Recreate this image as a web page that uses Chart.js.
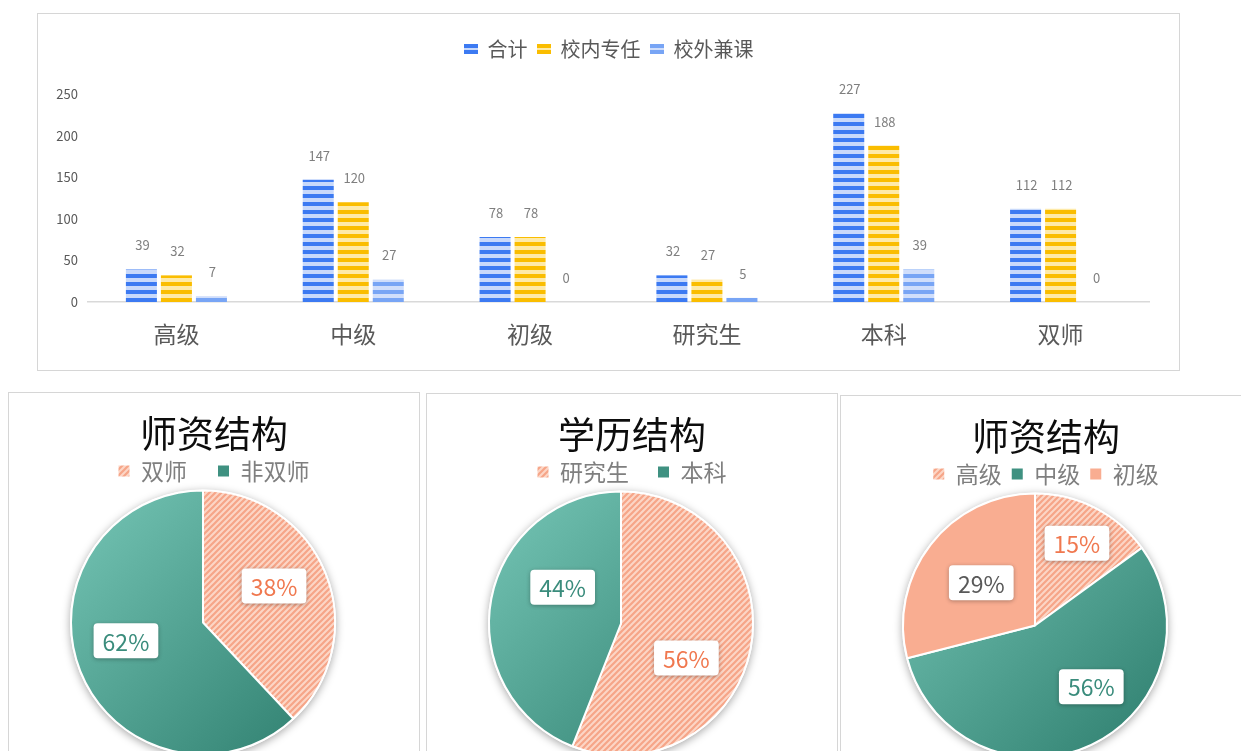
<!DOCTYPE html>
<html>
<head>
<meta charset="utf-8">
<script src="https://cdn.jsdelivr.net/npm/chart.js@4/dist/chart.umd.min.js"></script>
<style>
  body { margin: 0; background: #fff; width: 1241px; height: 751px; overflow: hidden; position: relative; }
  .panel { position: absolute; box-sizing: border-box; border: 1px solid #d6d6d6; background: #fff; }
  canvas { display: block; }
</style>
</head>
<body>
<div class="panel" style="left:37px;top:13px;width:1143px;height:358px"><canvas id="barChart" width="1141" height="356"></canvas></div>
<div class="panel" style="left:8px;top:392px;width:412px;height:420px"><canvas id="pie1" width="410" height="400"></canvas></div>
<div class="panel" style="left:426px;top:393px;width:412px;height:420px"><canvas id="pie2" width="410" height="400"></canvas></div>
<div class="panel" style="left:840px;top:395px;width:412px;height:420px"><canvas id="pie3" width="410" height="400"></canvas></div>

<script>
// ---- data ----
const categories = ['高级', '中级', '初级', '研究生', '本科', '双师'];
const seriesNames = ['合计', '校内专任', '校外兼课'];
const totalValues = [39, 147, 78, 32, 227, 112];
const fullTimeValues = [32, 120, 78, 27, 188, 112];
const partTimeValues = [7, 27, 0, 5, 39, 0];
const yTicks = [0, 50, 100, 150, 200, 250];

const pieTitles = ['师资结构', '学历结构', '师资结构'];
const pie1Labels = ['双师', '非双师'];
const pie1Values = [38, 62];
const pie2Labels = ['研究生', '本科'];
const pie2Values = [56, 44];
const pie3Labels = ['高级', '中级', '初级'];
const pie3Values = [15, 56, 29];

const FONT = "'Noto Sans CJK SC', 'Microsoft YaHei', sans-serif";
Chart.defaults.font.family = FONT;

// striped fill for bars (dark / light horizontal bands)
function stripe(dark, light) {
  const c = document.createElement('canvas');
  c.width = 4; c.height = 8;
  const g = c.getContext('2d');
  g.fillStyle = light; g.fillRect(0, 0, 4, 8);
  g.fillStyle = dark; g.fillRect(0, 4, 4, 4);
  return g.createPattern(c, 'repeat');
}
function stripeIcon(dark, light) {
  const c = document.createElement('canvas');
  c.width = 14; c.height = 10;
  const g = c.getContext('2d');
  g.fillStyle = light; g.fillRect(0, 0, 14, 10);
  g.fillStyle = dark; g.fillRect(0, 0, 14, 4); g.fillRect(0, 6, 14, 4);
  return c;
}
// diagonal hatch for the salmon slices
function hatch() {
  const c = document.createElement('canvas');
  c.width = 6; c.height = 6;
  const g = c.getContext('2d');
  g.fillStyle = '#fcd6c6'; g.fillRect(0, 0, 6, 6);
  g.strokeStyle = '#f6a588'; g.lineWidth = 2.2;
  g.beginPath();
  g.moveTo(-1, 7); g.lineTo(7, -1);
  g.moveTo(-1, 1); g.lineTo(1, -1);
  g.moveTo(5, 7); g.lineTo(7, 5);
  g.stroke();
  return g.createPattern(c, 'repeat');
}

const blue = ['#3c7af2', '#c8d9fb'];
const yellow = ['#fabd00', '#feeaa8'];
const lightBlue = ['#78a5f5', '#d0defb'];
const barColors = [blue, yellow, lightBlue];
const legendIcons = barColors.map(c => stripeIcon(c[0], c[1]));
const HATCH = hatch();

// legend height tweak
const legendHeight = {
  id: 'legendHeight',
  beforeLayout(chart, args, opts) {
    const lg = chart.legend;
    if (!lg || lg._fixed) return;
    const fit = lg.fit;
    lg.fit = function () { fit.call(this); this.height += (opts.extra || 0); };
    lg._fixed = true;
  }
};

// empty side boxes so the plot area sits off-centre while title/legend stay centred
function sideSpace(left, right) {
  return {
    id: 'sideSpace',
    beforeInit(chart) {
      [['left', left], ['right', right]].forEach(([pos, size]) => {
        Chart.layouts.addBox(chart, {
          position: pos, weight: 0, fullSize: false, options: {},
          width: size, height: 0, left: 0, top: 0, right: 0, bottom: 0,
          isHorizontal() { return false; },
          update(maxW, maxH) { this.width = size; this.height = maxH; return size; },
          draw() {}
        });
      });
    }
  };
}

const barValueLabels = {
  id: 'barValueLabels',
  afterDatasetsDraw(chart) {
    const ctx = chart.ctx;
    ctx.save();
    ctx.font = '13px ' + FONT;
    ctx.fillStyle = '#7f7f7f';
    ctx.textAlign = 'center';
    ctx.textBaseline = 'middle';
    chart.data.datasets.forEach((ds, i) => {
      chart.getDatasetMeta(i).data.forEach((bar, j) => {
        ctx.fillText(String(ds.data[j]), bar.x + 1, bar.y - 24);
      });
    });
    ctx.restore();
  }
};

new Chart(document.getElementById('barChart'), {
  type: 'bar',
  data: {
    labels: categories,
    datasets: [totalValues, fullTimeValues, partTimeValues].map((d, i) => ({
      label: seriesNames[i],
      data: d,
      backgroundColor: stripe(barColors[i][0], barColors[i][1]),
      categoryPercentage: 0.594,
      barPercentage: 0.886
    }))
  },
  options: {
    responsive: false,
    animation: false,
    layout: { padding: { top: 16, right: 0, left: 0, bottom: 0 } },
    scales: {
      x: {
        grid: { display: false, drawTicks: false },
        border: { color: '#d9d9d9', width: 1.5 },
        ticks: { color: '#595959', font: { size: 23 }, padding: 18 },
        afterFit(s) { s.height = 68; }
      },
      y: {
        min: 0, max: 250,
        grid: { display: false, drawTicks: false },
        border: { display: false },
        ticks: { color: '#595959', font: { size: 13 }, padding: 10 },
        afterBuildTicks(axis) { axis.ticks = yTicks.map(v => ({ value: v })); },
        afterFit(s) { s.width = 50; }
      }
    },
    plugins: {
      tooltip: { enabled: false },
      legendHeight: { extra: 25 },
      legend: {
        position: 'top',
        labels: {
          usePointStyle: true, boxWidth: 14, boxHeight: 10, padding: 9,
          color: '#595959', font: { size: 20 },
          generateLabels() {
            return seriesNames.map((t, i) => ({
              text: t, pointStyle: legendIcons[i], fillStyle: 'transparent',
              strokeStyle: 'transparent', lineWidth: 0, datasetIndex: i, hidden: false, fontColor: '#595959'
            }));
          }
        }
      }
    }
  },
  plugins: [sideSpace(0, 30), legendHeight, barValueLabels]
});

// ---- pies ----
function tealGradient(chart) {
  const a = chart.chartArea;
  const cx = (a.left + a.right) / 2, cy = (a.top + a.bottom) / 2;
  const r = Math.min(a.width, a.height) / 2;
  const g = chart.ctx.createLinearGradient(cx - r * 0.75, cy - r * 0.75, cx + r * 0.75, cy + r * 0.75);
  g.addColorStop(0, '#6dbdad');
  g.addColorStop(1, '#368676');
  return g;
}
function sliceFill(chart, kind) {
  if (kind === 'hatch') return HATCH;
  if (kind === 'teal') return chart.chartArea ? tealGradient(chart) : '#4a9a8a';
  return kind;
}

const pieShadow = {
  id: 'pieShadow',
  beforeDatasetsDraw(chart) {
    const arc = chart.getDatasetMeta(0).data[0];
    if (!arc) return;
    const ctx = chart.ctx;
    ctx.save();
    ctx.shadowColor = 'rgba(0,0,0,0.35)';
    ctx.shadowBlur = 9;
    ctx.shadowOffsetY = 2;
    ctx.fillStyle = '#fff';
    ctx.beginPath();
    ctx.arc(arc.x, arc.y, arc.outerRadius + 1, 0, Math.PI * 2);
    ctx.fill();
    ctx.restore();
  }
};

// percentage boxes; place = [angle shift in degrees, radius fraction] per slice
const pieLabels = {
  id: 'pieLabels',
  afterDatasetsDraw(chart, args, opts) {
    const ctx = chart.ctx;
    const ds = chart.data.datasets[0];
    chart.getDatasetMeta(0).data.forEach((arc, i) => {
      const place = (opts.place && opts.place[i]) || [0, 0.6];
      const mid = (arc.startAngle + arc.endAngle) / 2 + place[0] * Math.PI / 180;
      const r = arc.outerRadius * place[1];
      const px = arc.x + Math.cos(mid) * r;
      const py = arc.y + Math.sin(mid) * r;
      const text = ds.data[i] + '%';
      ctx.save();
      ctx.font = '23px ' + FONT;
      const w = ctx.measureText(text).width + 18, h = 35;
      ctx.shadowColor = 'rgba(0,0,0,0.3)';
      ctx.shadowBlur = 4;
      ctx.shadowOffsetY = 1;
      ctx.fillStyle = '#fff';
      ctx.beginPath();
      ctx.roundRect(px - w / 2, py - h / 2, w, h, 4);
      ctx.fill();
      ctx.restore();
      ctx.save();
      ctx.font = '23px ' + FONT;
      ctx.fillStyle = opts.colors[i];
      ctx.textAlign = 'center';
      ctx.textBaseline = 'middle';
      ctx.fillText(text, px, py + 1);
      ctx.restore();
    });
  }
};

function makePie(id, title, labels, values, fills, legendFills, textColors, legendPad, place) {
  return new Chart(document.getElementById(id), {
    type: 'pie',
    data: {
      labels: labels,
      datasets: [{
        data: values,
        backgroundColor: c => sliceFill(c.chart, fills[c.dataIndex]),
        borderColor: '#fff',
        borderWidth: 2
      }]
    },
    options: {
      responsive: false,
      animation: false,
      layout: { padding: { top: 19, bottom: 37.5, left: 0, right: 0 } },
      plugins: {
        tooltip: { enabled: false },
        title: {
          display: true, text: title, color: '#0d0d0d',
          font: { size: 37, weight: 'normal' },
          padding: { top: 0, bottom: 3.1 - legendPad }
        },
        legendHeight: { extra: -3 },
        legend: {
          position: 'top',
          labels: {
            boxWidth: 11, boxHeight: 11, padding: legendPad,
            color: '#7f7f7f', font: { size: 23 },
            generateLabels() {
              return labels.map((t, i) => ({
                text: t, fillStyle: legendFills[i], strokeStyle: 'transparent',
                lineWidth: 0, index: i, hidden: false, fontColor: '#7f7f7f'
              }));
            }
          }
        },
        pieLabels: { colors: textColors, place: place }
      }
    },
    plugins: [sideSpace(61, 83), legendHeight, pieShadow, pieLabels]
  });
}

const ORANGE_TXT = '#f0784f';
const TEAL_TXT = '#3a8c7c';
makePie('pie1', pieTitles[0], pie1Labels, pie1Values,
  ['hatch', 'teal'], [HATCH, '#3f9181'], [ORANGE_TXT, TEAL_TXT], 31,
  [[-5.6, 0.605], [8.2, 0.6]]);
makePie('pie2', pieTitles[1], pie2Labels, pie2Values,
  ['hatch', 'teal'], [HATCH, '#3f9181'], [ORANGE_TXT, TEAL_TXT], 29,
  [[17, 0.56], [21, 0.52]]);
makePie('pie3', pieTitles[2], pie3Labels, pie3Values,
  ['hatch', 'teal', '#f9ad91'], [HATCH, '#3f9181', '#f9ad91'], [ORANGE_TXT, TEAL_TXT, '#595959'], 10,
  [[0, 0.7], [-17.4, 0.63], [0.7, 0.52]]);
</script>
</body>
</html>
